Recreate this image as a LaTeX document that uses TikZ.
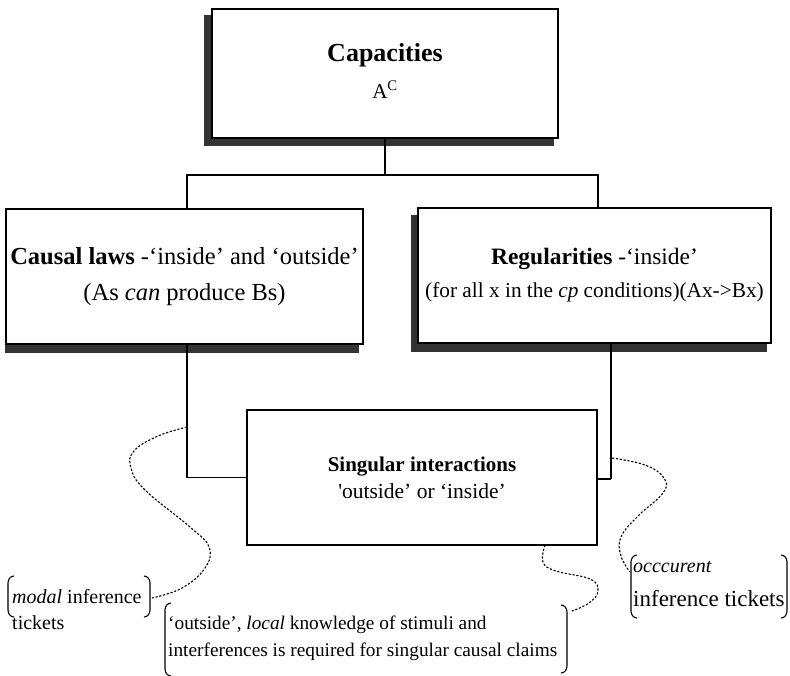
\documentclass[tikz,border=0pt]{standalone}
\usepackage{fontspec}
\setmainfont{Liberation Serif}
\usetikzlibrary{backgrounds}
\begin{document}
\begin{tikzpicture}[x=1pt,y=-1pt,
  box/.style={draw, fill=white, line width=1.1pt, inner sep=0pt, align=center},
  shadowfill/.style={fill=black!80},
  conn/.style={line width=1.1pt},
  dots/.style={line width=1.1pt, dash pattern=on 2.2pt off 1.7pt},
  brk/.style={line width=1.1pt},
  note/.style={inner sep=0pt, align=left, anchor=west}]
\useasboundingbox (0,0) rectangle (790,675);

% ---- boxes ----
\node[box, minimum width=346pt, minimum height=129pt,
      font=\fontsize{21}{24}\selectfont] (cap) at (385,73.5)
  {{\fontsize{26}{30}\selectfont\bfseries Capacities}\\[13pt]
   A\textsuperscript{C}\\[-18pt]};

\node[box, minimum width=357pt, minimum height=135pt,
      font=\fontsize{24.5}{36}\selectfont] (causal) at (184.5,276.5)
  {{\bfseries Causal laws} -‘inside’ and ‘outside’\\
   (As \textit{can} produce Bs)};

\node[box, minimum width=353pt, minimum height=135pt,
      font=\fontsize{21.3}{24}\selectfont] (reg) at (594.5,275.5)
  {{\fontsize{23.5}{28}\selectfont{\bfseries Regularities} -‘inside’}\\[9pt]
   (for all x in the \textit{cp} conditions)(Ax->Bx)};

\node[box, minimum width=350pt, minimum height=135pt,
      font=\fontsize{21.5}{24}\selectfont] (sing) at (422,477.5)
  {{\fontsize{21}{27}\selectfont\bfseries Singular interactions}\\[3pt]
   \textquotesingle outside’ or ‘inside’};

% ---- drop shadows ----
\begin{pgfonlayer}{background}
  \fill[shadowfill] ([shift={(-7,7)}]cap.north west) rectangle ([shift={(-5,7)}]cap.south east);
  \fill[shadowfill] (causal.south west) rectangle ([shift={(-5,8)}]causal.south east);
  \fill[shadowfill] ([shift={(-6,8)}]reg.north west) rectangle ([shift={(-5,8)}]reg.south east);
\end{pgfonlayer}

% ---- tree connectors ----
\coordinate (split) at (385,175);
\draw[conn] (cap.south) -- (split);
\draw[conn] ([xshift=2.5pt]causal.north) |- (split) -| ([xshift=3.5pt]reg.north);
\draw[conn] ([xshift=2.5pt]causal.south) |- (sing.west);
\coordinate (rj) at (611,479);
\draw[conn] ([xshift=16.5pt]reg.south) -- (rj);
\draw[line width=2.4pt] (rj) -- (sing.east |- rj);

% ---- annotations ----
\node[note, font=\fontsize{20}{26}\selectfont] (modal) at (12,610)
  {\textit{modal} inference\\tickets};
\node[note, font=\fontsize{19.3}{27}\selectfont] (local) at (168,638.5)
  {‘outside’, \textit{local} knowledge of stimuli and\\
   interferences is required for singular causal claims};
\node[note, font=\fontsize{23}{26}\selectfont] (occ) at (633,584)
  {{\fontsize{20}{22}\selectfont\textit{occcurent}}\\[8pt]
   inference tickets};

% brackets round the annotations
\draw[brk] (14,576) to[out=180,in=90] (8,583) -- (8,610) to[out=-90,in=180] (14,617);
\draw[brk] (144,576) to[out=0,in=90] (150,583) -- (150,610) to[out=-90,in=0] (144,617);
\draw[brk] (171,603) to[out=180,in=90] (165,610) -- (165,669) to[out=-90,in=180] (171,676);
\draw[brk] (561,605) to[out=0,in=90] (567,612) -- (567,666) to[out=-90,in=0] (561,673);
\draw[brk] (637,555) to[out=180,in=90] (631,562) -- (631,611) to[out=-90,in=180] (637,618);
\draw[brk] (781,555) to[out=0,in=90] (787,562) -- (787,611) to[out=-90,in=0] (781,618);

% ---- dotted links ----
\coordinate (d1) at (187,427);
\coordinate (m1) at (152,598);
\draw[dots] plot[smooth, tension=0.7] coordinates
  {(d1) (158,436) (134,451) (131,468) (145,490) (190,527) (209,547) (205,568) (182,588) (m1)};
\coordinate (d2) at (545,545);
\coordinate (m2) at (572,611);
\draw[dots] plot[smooth, tension=0.7] coordinates
  {(d2) (543,562) (556,571) (590,579) (598,591) (589,603) (m2)};
\coordinate (d3) at (612,458);
\coordinate (m3) at (630,572);
\draw[dots] plot[smooth, tension=0.7] coordinates
  {(d3) (645,465) (664,478) (663,493) (638,516) (621,537) (621,556) (m3)};
\end{tikzpicture}
\end{document}
